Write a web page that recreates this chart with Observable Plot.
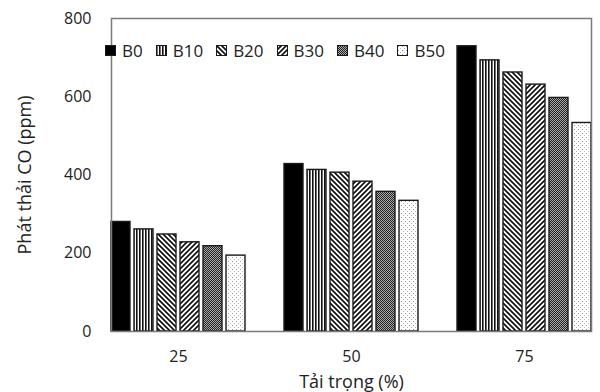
<!DOCTYPE html>
<html>
<head>
<meta charset="utf-8">
<script src="https://cdn.jsdelivr.net/npm/d3@7"></script>
<script src="https://cdn.jsdelivr.net/npm/@observablehq/plot@0.6"></script>
<style>
  html, body { margin: 0; padding: 0; background: #fff; }
  #wrap { position: relative; width: 600px; height: 392px; overflow: hidden; font-family: "Open Sans", sans-serif; }
  #legend { position: absolute; left: 105px; top: 39px; display: flex; align-items: center; font-size: 17px; color: #222; }
  #legend .item { display: flex; align-items: center; margin-right: 13px; }
  #legend svg { margin-right: 6px; }
</style>
</head>
<body>
<svg width="0" height="0" style="position:absolute">
  <defs>
    <pattern id="pB10" patternUnits="userSpaceOnUse" width="3" height="3">
      <rect width="3" height="3" fill="#fff"/>
      <rect x="0" width="1.6" height="3" fill="#111"/>
    </pattern>
    <pattern id="pB20" patternUnits="userSpaceOnUse" width="5" height="5">
      <rect width="5" height="5" fill="#fff"/>
      <path d="M0,0L5,5M-1,4L1,6M4,-1L6,1" stroke="#111" stroke-width="1.7"/>
    </pattern>
    <pattern id="pB30" patternUnits="userSpaceOnUse" width="5" height="5">
      <rect width="5" height="5" fill="#fff"/>
      <path d="M0,5L5,0M-1,1L1,-1M4,6L6,4" stroke="#111" stroke-width="1.7"/>
    </pattern>
    <pattern id="pB40" patternUnits="userSpaceOnUse" width="2" height="2">
      <rect width="2" height="2" fill="#aaa"/>
      <rect x="0" y="0" width="1" height="1" fill="#222"/>
      <rect x="1" y="1" width="1" height="1" fill="#222"/>
    </pattern>
    <pattern id="pB50" patternUnits="userSpaceOnUse" width="4" height="4">
      <rect width="4" height="4" fill="#fff"/>
      <rect x="1" y="1" width="1" height="1" fill="#999"/>
      <rect x="3" y="3" width="1" height="1" fill="#bbb"/>
    </pattern>
  </defs>
</svg>
<div id="wrap"></div>
<script>
const loads = ["25", "50", "75"];
const series = ["B0", "B10", "B20", "B30", "B40", "B50"];
const B0  = [280, 428, 729];
const B10 = [261, 413, 693];
const B20 = [248, 406, 662];
const B30 = [228, 383, 631];
const B40 = [218, 357, 597];
const B50 = [194, 334, 533];
const yTicks = [0, 200, 400, 600, 800];
const yTitle = "Phát thải CO (ppm)";
const xTitle = "Tải trọng (%)";
const fills = ["#000", "url(#pB10)", "url(#pB20)", "url(#pB30)", "url(#pB40)", "url(#pB50)"];

const values = { B0, B10, B20, B30, B40, B50 };
const data = [];
loads.forEach((l, i) => series.forEach(s => data.push({ load: l, series: s, value: values[s][i] })));

const chart = Plot.plot({
  width: 600,
  height: 392,
  marginLeft: 92,
  marginRight: -10,
  marginTop: 18,
  marginBottom: 61,
  style: { fontFamily: "Open Sans, sans-serif", fontSize: "16px", color: "#222", background: "#fff" },
  fx: { domain: loads, paddingInner: 0.224, paddingOuter: 0.104, label: null },
  x: { domain: series, paddingInner: 0.174, paddingOuter: 0, axis: null },
  y: { domain: [0, 800], label: null },
  color: { domain: series, range: fills },
  marks: [
    Plot.barY(data, { fx: "load", x: "series", y: "value", fill: "series", stroke: "#1a1a1a", strokeWidth: 1.4 }),
    Plot.frame({ facet: "super", stroke: "#7a7a7a", strokeWidth: 1.5 }),
    Plot.axisY({ ticks: yTicks, tickSize: 0, tickPadding: 20, fontSize: 16, label: null }),
    Plot.axisY({ ticks: [], tickSize: 0, label: yTitle, labelAnchor: "center", labelArrow: "none", labelOffset: 93 }),
    Plot.axisFx({ anchor: "bottom", tickSize: 0, tickPadding: 19, fontSize: 16, label: null }),
    Plot.axisFx({ anchor: "bottom", ticks: [], tickSize: 0, label: xTitle, labelAnchor: "center", labelArrow: "none", labelOffset: 56 })
  ]
});
chart.querySelectorAll("text").forEach(t => {
  if (t.textContent === yTitle || t.textContent === xTitle) t.setAttribute("font-size", "18");
});
const wrap = document.getElementById("wrap");
wrap.appendChild(chart);

const legend = document.createElement("div");
legend.id = "legend";
series.forEach((s, i) => {
  const item = document.createElement("div");
  item.className = "item";
  item.innerHTML = `<svg width="11" height="11"><rect x="0.5" y="0.5" width="10" height="10" fill="${fills[i]}" stroke="#1a1a1a" stroke-width="1"/></svg><span>${s}</span>`;
  legend.appendChild(item);
});
wrap.appendChild(legend);
</script>
</body>
</html>
